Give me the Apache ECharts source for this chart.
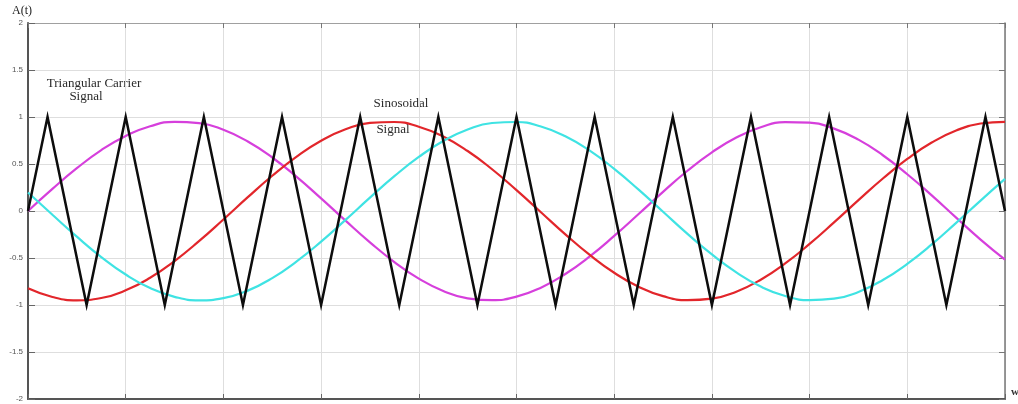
<!DOCTYPE html>
<html>
<head>
<meta charset="utf-8">
<title>Sinusoidal PWM</title>
<script src="https://cdn.jsdelivr.net/npm/echarts@6/dist/echarts.min.js"></script>
<style>
  html, body { margin: 0; padding: 0; background: #ffffff; }
  #chart { width: 1018px; height: 404px; }
</style>
</head>
<body>
<div id="chart"></div>
<script>
// sample positions along the w axis for the three reference waves
const sampleX = [0, 0.25, 0.5, 0.75, 1, 1.25, 1.5, 1.75, 2, 2.25, 2.5, 2.75, 3, 3.25, 3.5, 3.75,
  4, 4.25, 4.5, 4.75, 5, 5.25, 5.5, 5.75, 6, 6.25, 6.5, 6.75, 7, 7.25, 7.5, 7.75,
  8, 8.25, 8.5, 8.75, 9, 9.25, 9.5, 9.75, 10];

// phase A (magenta)
const magentaWave = [0, 0.235, 0.455, 0.648, 0.799, 0.902, 0.948, 0.935, 0.864, 0.739, 0.569, 0.363,
  0.134, -0.103, -0.333, -0.543, -0.719, -0.850, -0.929, -0.949, -0.911, -0.816, -0.670, -0.483,
  -0.265, -0.032, 0.204, 0.428, 0.624, 0.782, 0.891, 0.945, 0.940, 0.876, 0.759, 0.593,
  0.391, 0.166, -0.071, -0.304, -0.517];

// phase B (red)
const redWave = [-0.823, -0.915, -0.950, -0.926, -0.844, -0.710, -0.532, -0.321, -0.090, 0.147,
  0.375, 0.579, 0.747, 0.869, 0.937, 0.947, 0.897, 0.792, 0.638, 0.444, 0.222, -0.013,
  -0.248, -0.467, -0.657, -0.806, -0.906, -0.948, -0.932, -0.858, -0.731, -0.558, -0.350,
  -0.121, 0.116, 0.346, 0.554, 0.728, 0.856, 0.931, 0.949];

// phase C (cyan)
const cyanWave = [0.197, -0.040, -0.273, -0.490, -0.676, -0.820, -0.913, -0.950, -0.927, -0.847,
  -0.714, -0.536, -0.326, -0.095, 0.142, 0.370, 0.575, 0.744, 0.867, 0.936, 0.947, 0.899,
  0.795, 0.642, 0.448, 0.227, -0.008, -0.243, -0.462, -0.653, -0.804, -0.904, -0.948,
  -0.933, -0.861, -0.734, -0.562, -0.356, -0.126, 0.111, 0.341];

// triangular carrier vertices
const carrierX = [0, 0.2, 0.6, 1.0, 1.4, 1.8, 2.2, 2.6, 3.0, 3.4, 3.8, 4.2, 4.6, 5.0, 5.4,
  5.8, 6.2, 6.6, 7.0, 7.4, 7.8, 8.2, 8.6, 9.0, 9.4, 9.8, 10];
const carrierY = [0, 1, -1, 1, -1, 1, -1, 1, -1, 1, -1, 1, -1, 1, -1,
  1, -1, 1, -1, 1, -1, 1, -1, 1, -1, 1, 0];

// amplitude axis tick labels
const yTickLabels = ['-2', '-1.5', '-1', '-0.5', '0', '0.5', '1', '1.5', '2'];

const zip = (xs, ys) => xs.map((x, i) => [x, ys[i]]);

const serif = 'Liberation Serif, Times New Roman, serif';
const chart = echarts.init(document.getElementById('chart'), null, { renderer: 'canvas' });

const gridColor = '#dedede';

chart.setOption({
  animation: false,
  backgroundColor: '#ffffff',
  grid: { left: 28, right: 13, top: 23, bottom: 5, containLabel: false },
  xAxis: [
    {
      type: 'value', min: 0, max: 10, interval: 1, position: 'bottom',
      axisLine: { show: true, onZero: false, lineStyle: { color: '#555', width: 2 } },
      axisTick: { show: true, inside: true, length: 5, lineStyle: { color: '#666' } },
      axisLabel: { show: false },
      splitLine: { show: true, lineStyle: { color: gridColor, width: 1 } }
    },
    {
      type: 'value', min: 0, max: 10, interval: 1, position: 'top',
      axisLine: { show: true, onZero: false, lineStyle: { color: '#a0a0a0', width: 1 } },
      axisTick: { show: true, inside: true, length: 5, lineStyle: { color: '#777' } },
      axisLabel: { show: false },
      splitLine: { show: false }
    }
  ],
  yAxis: [
    {
      type: 'value', min: -2, max: 2, interval: 0.5, position: 'left',
      axisLine: { show: true, onZero: false, lineStyle: { color: '#555', width: 2 } },
      axisTick: { show: true, inside: true, length: 7, lineStyle: { color: '#666' } },
      axisLabel: {
        color: '#555', fontSize: 8, margin: 5, fontFamily: 'Liberation Sans, Arial, sans-serif',
        formatter: (v) => yTickLabels[Math.round((v + 2) / 0.5)]
      },
      splitLine: { show: true, lineStyle: { color: gridColor, width: 1 } }
    },
    {
      type: 'value', min: -2, max: 2, interval: 0.5, position: 'right',
      axisLine: { show: true, onZero: false, lineStyle: { color: '#777', width: 1.5 } },
      axisTick: { show: true, inside: true, length: 6, lineStyle: { color: '#777' } },
      axisLabel: { show: false },
      splitLine: { show: false }
    }
  ],
  series: [
    {
      name: 'Phase A', type: 'line', xAxisIndex: 0, yAxisIndex: 0,
      data: zip(sampleX, magentaWave), smooth: true, showSymbol: false,
      lineStyle: { color: '#d63fdc', width: 2.2 }
    },
    {
      name: 'Phase B', type: 'line', xAxisIndex: 0, yAxisIndex: 0,
      data: zip(sampleX, redWave), smooth: true, showSymbol: false,
      lineStyle: { color: '#e2262b', width: 2.2 }
    },
    {
      name: 'Phase C', type: 'line', xAxisIndex: 0, yAxisIndex: 0,
      data: zip(sampleX, cyanWave), smooth: true, showSymbol: false,
      lineStyle: { color: '#3fe3e3', width: 2.2 }
    },
    {
      name: 'Carrier', type: 'line', xAxisIndex: 0, yAxisIndex: 0,
      data: zip(carrierX, carrierY), smooth: false, showSymbol: false,
      lineStyle: { color: '#0d0d0d', width: 2.5, join: 'miter', miterLimit: 10 }
    }
  ],
  graphic: [
    { type: 'text', x: 22, y: 11, style: { text: 'A(t)', font: '12px ' + serif, fill: '#222', align: 'center', verticalAlign: 'middle' } },
    { type: 'text', x: 94, y: 83.5, style: { text: 'Triangular Carrier', font: '13px ' + serif, fill: '#2a2a2a', align: 'center', verticalAlign: 'middle' } },
    { type: 'text', x: 86, y: 97, style: { text: 'Signal', font: '13px ' + serif, fill: '#2a2a2a', align: 'center', verticalAlign: 'middle' } },
    { type: 'text', x: 401, y: 104, style: { text: 'Sinosoidal', font: '13px ' + serif, fill: '#2a2a2a', align: 'center', verticalAlign: 'middle' } },
    { type: 'text', x: 393, y: 130, style: { text: 'Signal', font: '13px ' + serif, fill: '#2a2a2a', align: 'center', verticalAlign: 'middle' } },
    { type: 'text', x: 1015, y: 392, style: { text: 'w', font: 'bold 11px ' + serif, fill: '#333', align: 'center', verticalAlign: 'middle' } }
  ]
});
</script>
</body>
</html>
